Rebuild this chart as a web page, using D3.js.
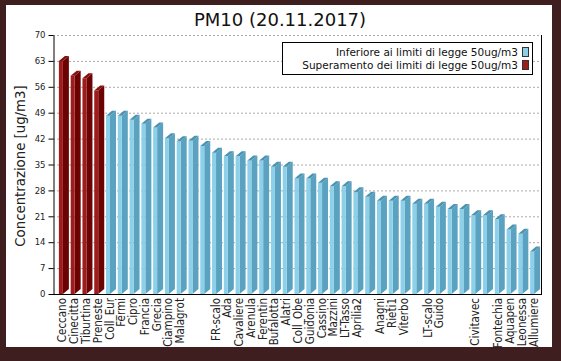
<!DOCTYPE html>
<html>
<head>
<meta charset="utf-8">
<script src="https://cdn.jsdelivr.net/npm/d3@7"></script>
<style>
  body { margin: 0; background: #fff; }
  text { font-family: "DejaVu Sans", sans-serif; }
</style>
</head>
<body>
<script>
// stations, in chart order (blank = no label under the bar)
const stations = ["Ceccano","Cinecitta","Tiburtina","Preneste","Coll_Eur","Fermi","Cipro","Francia","Grecia","Ciampino","Malagrot","","",
  "FR-scalo","Ada","Cavaliere","Arenula","Ferentin","Bufalotta","Alatri","Coll_Obe","Guidonia","Cassino","Mazzini","LT-Tasso","Aprilia2","",
  "Anagni","Rieti1","Viterbo","","LT-scalo","Guido","","","Civitavec","","Fontechia","Aquapen","Leonessa","Allumiere"];
const pm10 = [63,59,58.3,55,48.2,48.2,47.1,46,45,42.1,41.3,41.4,40,
  38.2,37.2,37.2,36.1,36.1,34.4,34.4,31.2,31.2,30.1,29.1,29.1,27.5,26.3,
  25.2,25.2,25.2,24.4,24.4,23.6,23,23,21.3,21.3,20.2,17.4,16.3,11.5];
const yTicks = [0,7,14,21,28,35,42,49,56,63,70];
const limit = 50;
const legendLabels = ["Inferiore ai limiti di legge 50ug/m3", "Superamento dei limiti di legge 50ug/m3"];

const width = 561, height = 361;
const svg = d3.select("body").append("svg")
  .attr("width", width)
  .attr("height", height);

// dark frame + white panel
svg.append("rect").attr("width", width).attr("height", height).attr("fill", "#3e1e1e");
svg.append("rect").attr("x", 6).attr("y", 5).attr("width", 546).attr("height", 342).attr("fill", "#fff");

const plotL = 53, plotR = 541, plotT = 35, plotB = 294;

const x = d3.scaleBand()
  .domain(d3.range(stations.length))
  .range([58, plotR])
  .padding(0);

const y = d3.scaleLinear()
  .domain([0, 70])
  .range([plotB, plotT]);

// title
svg.append("text")
  .attr("x", 280).attr("y", 26)
  .attr("text-anchor", "middle")
  .attr("font-size", 18)
  .attr("fill", "#111")
  .text("PM10 (20.11.2017)");

// dotted grid
svg.append("g").selectAll("line")
  .data(yTicks.filter(t => t > 0))
  .enter().append("line")
  .attr("x1", plotL).attr("x2", plotR)
  .attr("y1", d => y(d) + 0.5).attr("y2", d => y(d) + 0.5)
  .attr("stroke", "#aaa")
  .attr("stroke-dasharray", "2,2");

// right frame line
svg.append("line")
  .attr("x1", plotR + 0.5).attr("x2", plotR + 0.5)
  .attr("y1", plotT).attr("y2", plotB)
  .attr("stroke", "#000");

// bars (front, side, top cap)
const colors = {
  low:  { front: "#8dd0ea", side: "#5aa2c0", cap: "#4b93b1" },
  high: { front: "#9e1c1c", side: "#6c0303", cap: "#861010" }
};
const fw = 4, dx = 6, dy = 5;

const bars = svg.append("g").selectAll("g")
  .data(pm10.map((v, i) => ({ i, v, c: v > limit ? colors.high : colors.low })))
  .enter().append("g");

bars.each(function(d) {
  const g = d3.select(this);
  const bx = x(d.i) + (x.bandwidth() - fw - dx) / 2;
  const yt = y(d.v), y0 = y(0);
  g.append("polygon")
    .attr("points", [[bx + fw, yt], [bx + fw + dx, yt - dy], [bx + fw + dx, y0 - dy], [bx + fw, y0]].join(" "))
    .attr("fill", d.c.side);
  g.append("rect")
    .attr("x", bx).attr("y", yt)
    .attr("width", fw).attr("height", y0 - yt)
    .attr("fill", d.c.front);
  g.append("polygon")
    .attr("points", [[bx, yt], [bx + fw, yt], [bx + fw + dx, yt - dy], [bx + dx, yt - dy]].join(" "))
    .attr("fill", d.c.cap);
});

// y axis
const yAxis = svg.append("g")
  .attr("transform", `translate(${plotL + 0.5},0)`)
  .call(d3.axisLeft(y).tickValues(yTicks).tickSize(5).tickSizeOuter(0).tickPadding(3));
yAxis.selectAll("text").attr("font-size", 8.5).attr("fill", "#222").style("font-family", "DejaVu Sans");
yAxis.selectAll("line, path").attr("stroke", "#000");

// x axis line
svg.append("line")
  .attr("x1", plotL).attr("x2", plotR + 1)
  .attr("y1", plotB + 0.5).attr("y2", plotB + 0.5)
  .attr("stroke", "#000");

// station labels
svg.append("g").selectAll("text")
  .data(stations)
  .enter().append("text")
  .attr("transform", (d, i) => `translate(${x(i) + x.bandwidth() / 2 + 2.5},298) rotate(-90)`)
  .attr("text-anchor", "end")
  .attr("font-size", 11.5)
  .attr("fill", "#222")
  .style("font-family", "'DejaVu Sans Condensed', 'DejaVu Sans', sans-serif")
  .text(d => d);

// y axis title
svg.append("text")
  .attr("transform", "translate(25,166) rotate(-90)")
  .attr("text-anchor", "middle")
  .attr("font-size", 13.3)
  .attr("fill", "#222")
  .text("Concentrazione [ug/m3]");

// legend
const legend = svg.append("g");
legend.append("rect")
  .attr("x", 282.5).attr("y", 42.5)
  .attr("width", 250).attr("height", 32)
  .attr("fill", "#fff").attr("stroke", "#000");
[colors.low, colors.high].forEach((c, k) => {
  legend.append("text")
    .attr("x", 518).attr("y", 56 + k * 13)
    .attr("text-anchor", "end")
    .attr("font-size", 10.5)
    .attr("fill", "#111")
    .text(legendLabels[k]);
  legend.append("rect")
    .attr("x", 522.5).attr("y", 47.5 + k * 13)
    .attr("width", 6).attr("height", 9)
    .attr("fill", c.front).attr("stroke", "#333");
});
</script>
</body>
</html>
